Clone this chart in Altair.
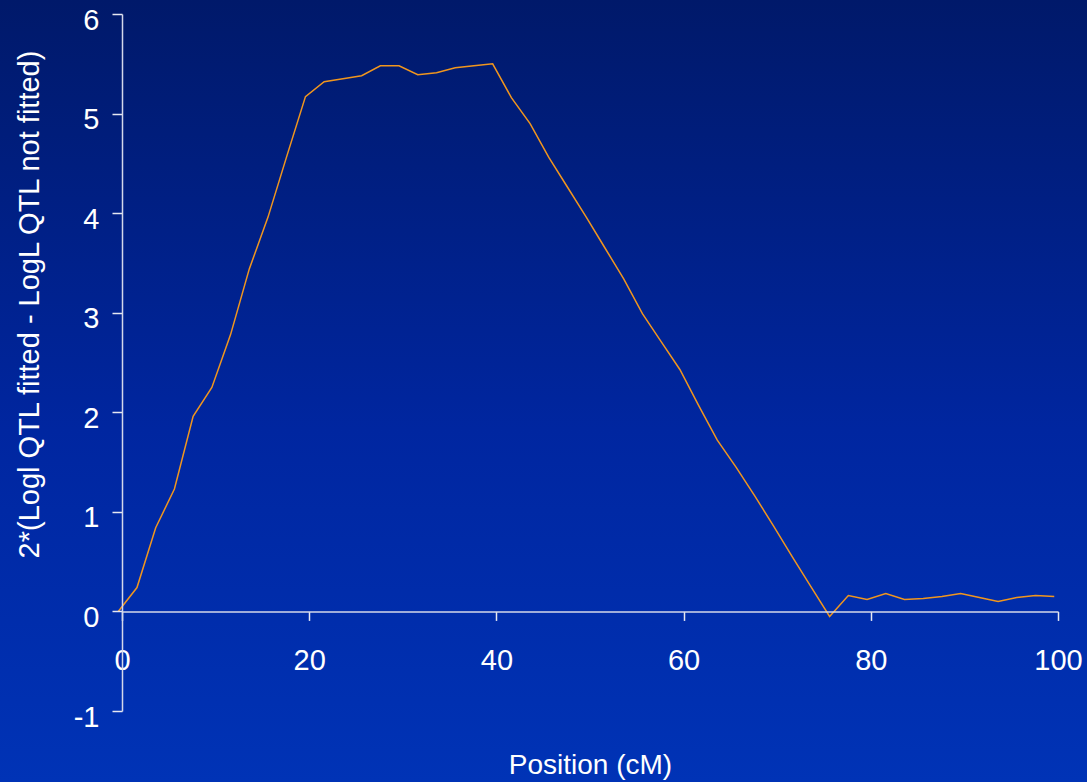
import altair as alt
import pandas as pd

# Marker positions along the chromosome (cM)
positions = [
    -0.4, 1.6, 3.6, 5.6, 7.6, 9.6, 11.6, 13.6, 15.6, 17.6,
    19.6, 21.6, 23.6, 25.6, 27.6, 29.6, 31.6, 33.6, 35.6, 37.6,
    39.6, 41.6, 43.6, 45.6, 47.6, 49.6, 51.6, 53.6, 55.6, 57.6,
    59.6, 61.6, 63.6, 65.6, 67.6, 69.6, 71.6, 73.6, 75.6, 77.6,
    79.6, 81.6, 83.6, 85.6, 87.6, 89.6, 91.6, 93.6, 95.6, 97.6,
    99.6,
]

# Likelihood-ratio statistic at each position
lr_stat = [
    0.00, 0.24, 0.84, 1.23, 1.96, 2.25, 2.78, 3.44, 3.96, 4.57,
    5.17, 5.32, 5.35, 5.38, 5.48, 5.48, 5.39, 5.41, 5.46, 5.48,
    5.50, 5.16, 4.90, 4.56, 4.26, 3.96, 3.65, 3.34, 2.99, 2.71,
    2.43, 2.07, 1.72, 1.45, 1.16, 0.86, 0.55, 0.25, -0.05, 0.16,
    0.12, 0.18, 0.12, 0.13, 0.15, 0.18, 0.14, 0.10, 0.14, 0.16,
    0.15,
]

x_ticks = [0, 20, 40, 60, 80, 100]
y_ticks = [-1, 0, 1, 2, 3, 4, 5, 6]

W, H = 936, 697
PAD = {"left": 122, "top": 14, "right": 29, "bottom": 71}
FONT = "Liberation Sans"

df = pd.DataFrame({"pos": positions, "lr": lr_stat})

# Slide-style vertical blue gradient behind everything
bg = alt.Chart(pd.DataFrame({"k": [0]})).mark_rect(
    fill=alt.Gradient(
        gradient="linear",
        stops=[
            alt.GradientStop(color="#00196A", offset=0),
            alt.GradientStop(color="#0026A0", offset=0.55),
            alt.GradientStop(color="#0033B6", offset=1),
        ],
        x1=0, x2=0, y1=0, y2=1,
    ),
    strokeWidth=0,
).encode(
    x=alt.value(-PAD["left"]),
    x2=alt.value(W + PAD["right"]),
    y=alt.value(-PAD["top"]),
    y2=alt.value(H + PAD["bottom"]),
)

x_axis = alt.Axis(
    values=x_ticks,
    offset=-H / 7,
    grid=False,
    zindex=1,
    domainColor="#D4D8EA",
    domainWidth=1.5,
    tickColor="#E6E8F2",
    tickWidth=1.5,
    tickSize=9,
    labelPadding=26,
    labelFont=FONT,
    labelFontSize=29,
    labelColor="white",
    labelFlush=False,
    labelOverlap=False,
    title="Position (cM)",
    titleFont=FONT,
    titleFontSize=28,
    titleFontWeight="normal",
    titleColor="white",
    titleBaseline="alphabetic",
    titleY=162,
)

y_axis = alt.Axis(
    values=y_ticks,
    grid=False,
    zindex=1,
    domainColor="#D4D8EA",
    domainWidth=1.5,
    tickColor="#E6E8F2",
    tickWidth=1.5,
    tickSize=10,
    labelPadding=13,
    labelOffset=6,
    labelExpr="'' + datum.value",
    labelFont=FONT,
    labelFontSize=29,
    labelColor="white",
    labelOverlap=False,
    title="2*(Logl QTL fitted - LogL QTL not fitted)",
    titleFont=FONT,
    titleFontSize=29,
    titleFontWeight="normal",
    titleColor="white",
    titleAngle=270,
    titleAlign="center",
    titleBaseline="alphabetic",
    titleX=-84,
    titleY=290,
)

line = alt.Chart(df).mark_line(color="#F0961E", strokeWidth=1.5).encode(
    x=alt.X("pos:Q", scale=alt.Scale(domain=[0, 100], nice=False, zero=False), axis=x_axis),
    y=alt.Y("lr:Q", scale=alt.Scale(domain=[-1, 6], nice=False, zero=False), axis=y_axis),
)

chart = (
    alt.layer(bg, line)
    .properties(
        width=W,
        height=H,
        padding=PAD,
        autosize=alt.AutoSizeParams(type="none"),
        background="#00196A",
    )
    .configure_view(strokeWidth=0)
)

chart.save("out.html", embed_options={"renderer": "svg", "actions": False})
